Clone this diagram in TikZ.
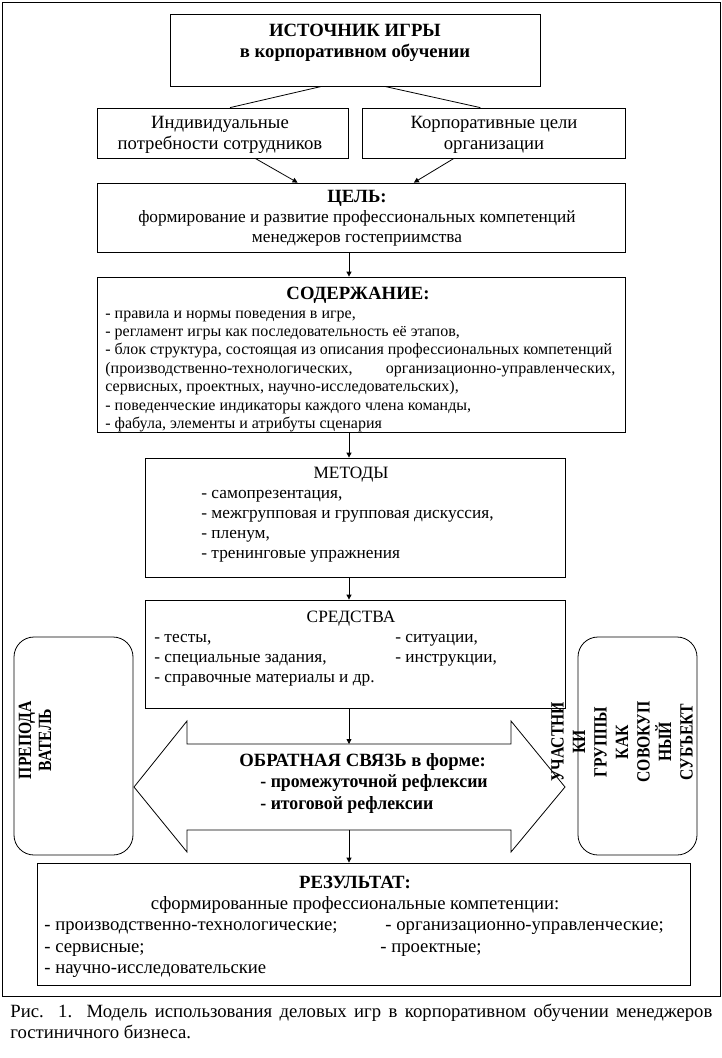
\documentclass[tikz,border=0pt]{standalone}
\usepackage{fontspec}
\setmainfont{Liberation Serif}
\usetikzlibrary{arrows.meta,calc}
\newcommand{\uzko}[1]{\scalebox{0.84}[1]{#1}}

\begin{document}
\begin{tikzpicture}[x=1pt, y=-1pt, line width=0.8pt,
                        blok/.style={draw, rectangle, inner sep=0pt},
                        oval/.style={draw, rectangle, rounded corners=20pt, inner sep=0pt,
                                     minimum width=119pt, minimum height=218pt},
                        txt/.style={inner sep=0pt, anchor=base},
                        lft/.style={inner sep=0pt, anchor=base west},
                        strela/.style={-{Triangle[length=5pt,width=5pt]}},
                        hd/.style={font=\fontsize{18.7}{21.5}\selectfont\bfseries},
                        big/.style={font=\fontsize{18.7}{21.5}\selectfont},
                        mid/.style={font=\fontsize{17.3}{20}\selectfont},
                        sml/.style={font=\fontsize{16}{18.4}\selectfont}]
                        \useasboundingbox (0,0) rectangle (722,1058);
                        % Frame and boxes:
                        \node[blok, minimum width=718pt, minimum height=994pt] (ramka) at (361,499) {};
                        \node[blok, minimum width=370pt, minimum height=72pt] (src) at (355,50) {};
                        \node[blok, minimum width=251pt, minimum height=50pt] (indiv) at (222.5,133) {};
                        \node[blok, minimum width=263pt, minimum height=50pt] (corp) at (493.5,133) {};
                        \node[blok, minimum width=528pt, minimum height=69pt] (goal) at (361,217.5) {};
                        \node[blok, minimum width=528pt, minimum height=155pt] (content) at (361,354.5) {};
                        \node[blok, minimum width=420pt, minimum height=119pt] (methods) at (355,517.5) {};
                        \node[blok, minimum width=420pt, minimum height=108pt] (tools) at (355,654) {};
                        \node[blok, minimum width=653pt, minimum height=122pt] (result) at (363.5,924) {};
                        \node[oval] (teacher) at (73.5,746) {};
                        \node[oval] (group) at (637.5,746) {};
                        % Feedback double arrow:
                        \draw (187,744) -- (187,721) -- (134,787) -- (187,852) -- (187,830) -- (511,830)
                              -- (511,852) -- (565,787) -- (511,721) -- (511,744) -- cycle;
                        \coordinate (os) at (349,0);
                        \coordinate (fbtop) at (349,744);
                        \coordinate (fbbot) at (349,830);
                        % Wires:
                        \draw ($(src.south west)!0.41!(src.south east)$) -- ($(indiv.north west)!0.53!(indiv.north east)$);
                        \draw ($(src.south west)!0.58!(src.south east)$) -- ($(corp.north west)!0.45!(corp.north east)$);
                        \draw[strela] ($(indiv.south west)!0.63!(indiv.south east)$) -- ($(goal.north west)!0.38!(goal.north east)$);
                        \draw[strela] ($(corp.south west)!0.35!(corp.south east)$) -- ($(goal.north west)!0.6!(goal.north east)$);
                        \draw[strela] (goal.south -| os) -- (content.north -| os);
                        \draw[strela] (content.south -| os) -- (methods.north -| os);
                        \draw[strela] (methods.south -| os) -- (tools.north -| os);
                        \draw[strela] (tools.south -| os) -- (fbtop);
                        \draw[strela] (fbbot) -- (result.north -| os);
                        % Texts:
                        \node[txt, hd] (srcA) at (355,36) {ИСТОЧНИК ИГРЫ};
                        \node[txt, hd] (srcB) at (355,57) {в корпоративном обучении};
                        \node[txt, big] (indivA) at (220,128) {Индивидуальные};
                        \node[txt, big] (indivB) at (220,149) {потребности сотрудников};
                        \node[txt, big] (corpA) at (494,128) {Корпоративные цели};
                        \node[txt, big] (corpB) at (494,149) {организации};
                        \node[txt, hd] (goalA) at (357,202) {ЦЕЛЬ:};
                        \node[txt, mid] (goalB) at (357,222) {формирование и развитие профессиональных компетенций};
                        \node[txt, mid] (goalC) at (357,242) {менеджеров гостеприимства};
                        \node[txt, hd] (contentA) at (358,299) {СОДЕРЖАНИЕ:};
                        \node[lft, sml] (c1) at (105,318) {- правила и нормы поведения в игре,};
                        \node[lft, sml] (c2) at (105,336.4) {- регламент игры как последовательность её этапов,};
                        \node[lft, sml] (c3) at (105,354.8) {- блок структура, состоящая из описания профессиональных компетенций};
                        \node[lft, sml] (c4) at (105,373.2) {\makebox[510pt][s]{(производственно-технологических,\hfill организационно-управленческих,}};
                        \node[lft, sml] (c5) at (105,391.6) {сервисных, проектных, научно-исследовательских),};
                        \node[lft, sml] (c6) at (105,410) {- поведенческие индикаторы каждого члена команды,};
                        \node[lft, sml] (c7) at (105,428.4) {- фабула, элементы и атрибуты сценария};
                        \node[txt, mid] (methodsA) at (351,478) {МЕТОДЫ};
                        \node[lft, mid] (m1) at (201,498) {- самопрезентация,};
                        \node[lft, mid] (m2) at (201,518) {- межгрупповая и групповая дискуссия,};
                        \node[lft, mid] (m3) at (201,538) {- пленум,};
                        \node[lft, mid] (m4) at (201,558) {- тренинговые упражнения};
                        \node[txt, mid] (toolsA) at (351,622) {СРЕДСТВА};
                        \node[lft, mid] (s1) at (154,642) {- тесты,};
                        \node[lft, mid] (s2) at (154,662) {- специальные задания,};
                        \node[lft, mid] (s3) at (154,682) {- справочные материалы и др.};
                        \node[lft, mid] (s4) at (395,642) {- ситуации,};
                        \node[lft, mid] (s5) at (395,662) {- инструкции,};
                        \node[lft, hd] (fbA) at (239,766) {ОБРАТНАЯ СВЯЗЬ в форме:};
                        \node[lft, hd] (fbB) at (260,787) {\scalebox{0.95}[1]{- промежуточной рефлексии}};
                        \node[lft, hd] (fbC) at (260,809) {\scalebox{0.95}[1]{- итоговой рефлексии}};
                        \node[rotate=90, align=center, inner sep=0pt,
                              font=\fontsize{18.7}{20}\selectfont\bfseries] (teacherT) at (35,740)
                              {\uzko{ПРЕПОДА}\\\uzko{ВАТЕЛЬ}};
                        \node[rotate=90, align=center, inner sep=0pt,
                              font=\fontsize{18.7}{21.5}\selectfont\bfseries] (groupT) at (622,742)
                              {\uzko{УЧАСТНИ}\\\uzko{КИ}\\\uzko{ГРУППЫ}\\\uzko{КАК}\\\uzko{СОВОКУП}\\\uzko{НЫЙ}\\\uzko{СУБЪЕКТ}};
                        \node[txt, hd] (resultA) at (355,888) {РЕЗУЛЬТАТ:};
                        \node[txt, big] (resultB) at (355,909) {сформированные профессиональные компетенции:};
                        \node[lft, big] (r1) at (44,930) {- производственно-технологические;};
                        \node[lft, big] (r2) at (385,930) {- организационно-управленческие;};
                        \node[lft, big] (r3) at (44,952) {- сервисные;};
                        \node[lft, big] (r4) at (380,952) {- проектные;};
                        \node[lft, big] (r5) at (44,973) {- научно-исследовательские};
                        % Caption:
                        \node[lft, big] (capA) at (10,1017) {\makebox[702pt][s]{Рис. 1. Модель использования деловых игр в корпоративном обучении менеджеров}};
                        \node[lft, big] (capB) at (10,1038) {гостиничного бизнеса.};
                    \end{tikzpicture}
\end{document}
